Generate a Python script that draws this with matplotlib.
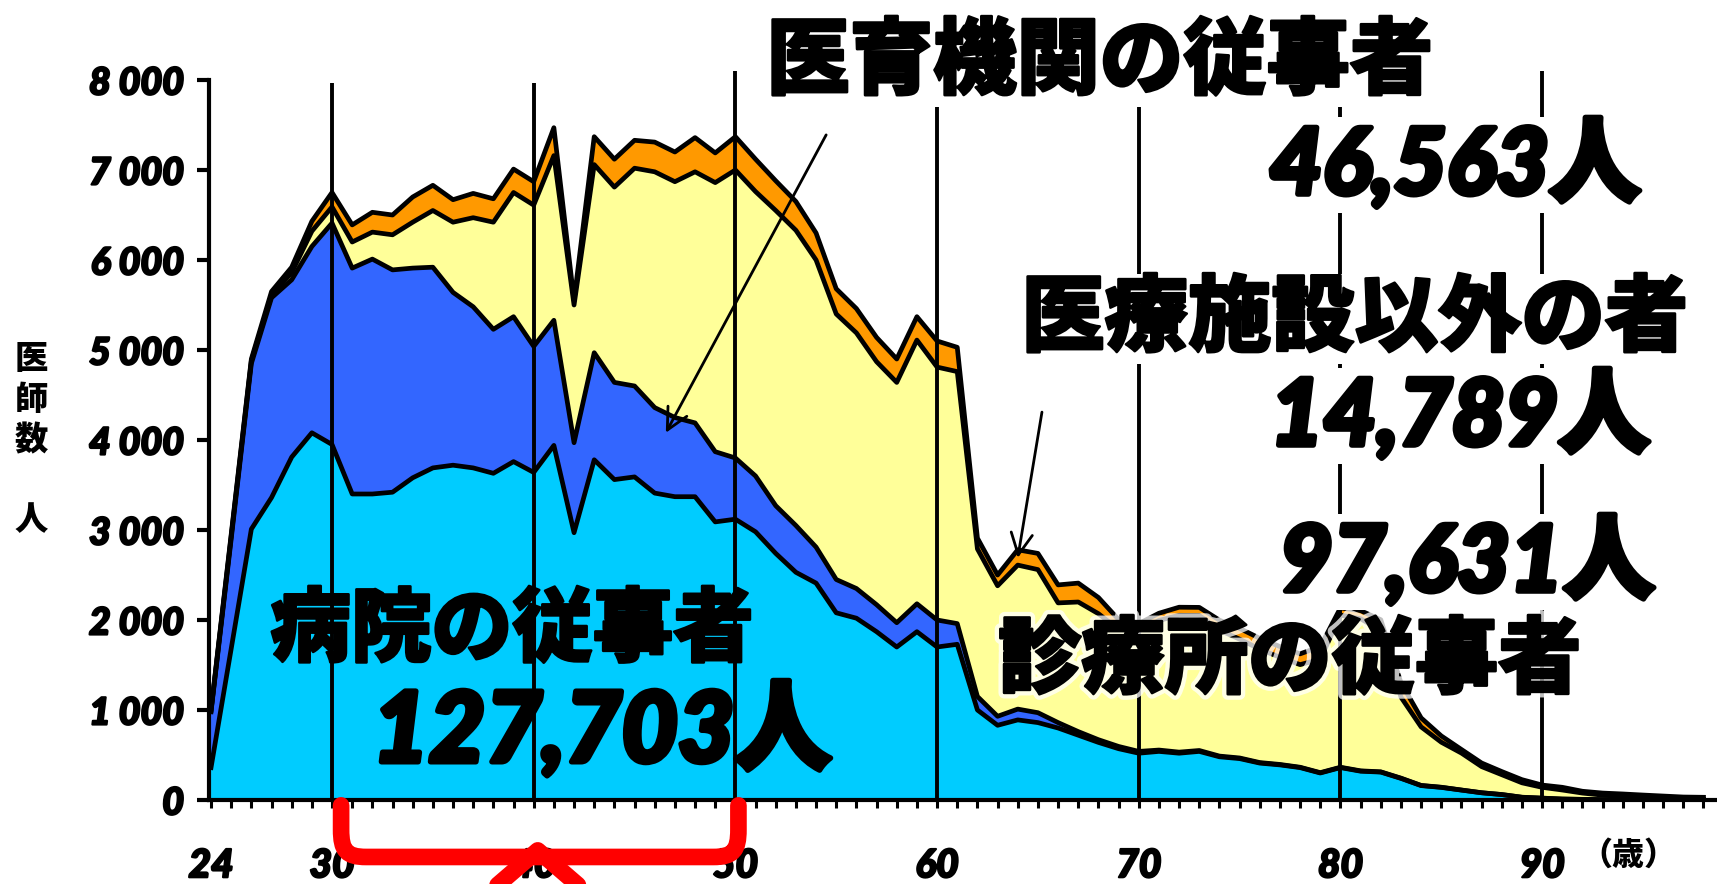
import matplotlib
matplotlib.use("Agg")
import matplotlib.pyplot as plt
import matplotlib.patheffects as pe
import numpy as np
from matplotlib.patches import PathPatch
from matplotlib.path import Path
from matplotlib.ticker import FixedLocator, FuncFormatter, MultipleLocator

# 年齢階級別・施設の種別にみた医師数（24〜98歳）
ages = np.arange(24, 99)

hospital = [360, 1680, 3010, 3360, 3810, 4080, 3950, 3400, 3400, 3420,
            3580, 3690, 3720, 3690, 3630, 3760, 3640, 3940, 2970, 3780,
            3560, 3590, 3410, 3370, 3370, 3090, 3120, 2980, 2740, 2530,
            2410, 2080, 2020, 1870, 1700, 1870, 1700, 1730, 1000, 830,
            890, 860, 800, 720, 640, 570, 520, 540, 520, 540,
            480, 460, 410, 390, 360, 300, 360, 320, 310, 240,
            160, 140, 110, 80, 60, 30, 20, 10, 7, 4,
            3, 2, 1, 1, 1]

education = [620, 1220, 1840, 2220, 1970, 2070, 2460, 2510, 2610, 2470,
             2330, 2230, 1920, 1790, 1600, 1610, 1400, 1390, 1000, 1190,
             1080, 1010, 950, 880, 820, 780, 680, 620, 530, 520,
             400, 370, 330, 300, 270, 310, 300, 230, 150, 100,
             120, 110, 60, 40, 30, 25, 20, 15, 12, 10,
             8, 7, 6, 5, 4, 4, 4, 4, 3, 3,
             2, 2, 1, 1, 1, 1, 1, 1, 0, 0,
             0, 0, 0, 0, 0]

clinic = [10, 30, 30, 30, 80, 170, 180, 290, 300, 390,
          510, 630, 780, 990, 1190, 1380, 1570, 1830, 1530, 2090,
          2170, 2420, 2620, 2620, 2790, 2990, 3200, 3160, 3280, 3280,
          3190, 2950, 2840, 2700, 2670, 2930, 2810, 2800, 1640, 1450,
          1600, 1590, 1330, 1440, 1400, 1300, 1340, 1440, 1520, 1500,
          1400, 1320, 1260, 1190, 1140, 1260, 1690, 1690, 1570, 900,
          650, 500, 410, 290, 220, 160, 120, 100, 70, 50,
          37, 26, 19, 11, 7]

other = [10, 20, 20, 40, 60, 110, 160, 190, 220, 220,
         280, 280, 250, 270, 260, 260, 260, 310, 50, 310,
         310, 310, 330, 330, 380, 330, 370, 360, 330, 320,
         300, 280, 270, 270, 260, 260, 290, 270, 120, 120,
         170, 180, 200, 210, 180, 110, 80, 80, 90, 90,
         110, 120, 120, 120, 120, 140, 80, 90, 120, 160,
         100, 70, 40, 40, 35, 35, 25, 30, 20, 23,
         27, 27, 24, 21, 22]

decades = [30, 40, 50, 60, 70, 80, 90]
xtick_ages = [24, 30, 40, 50, 60, 70, 80, 90]

NUM_FONT = ['Lato', 'DejaVu Sans']
JP_FONT = ['Noto Sans CJK JP', 'DejaVu Sans']
MIX_FONT = ['Lato', 'Noto Sans CJK JP', 'DejaVu Sans']

plt.rcParams['font.family'] = NUM_FONT
plt.rcParams['font.weight'] = 'black'
plt.rcParams['font.style'] = 'italic'

colors = ['#00CCFF', '#3366FF', '#FFFF99', '#FF9900']
W, H = 1717, 884


def heavy(width):
    # thicken glyphs a little with a same-colour outline
    return [pe.withStroke(linewidth=width, foreground='black')]


fig = plt.figure(figsize=(W / 100, H / 100), dpi=100)
ax = fig.add_axes([209 / W, 84 / H, 1 - 209 / W, 720 / H])

# stacked layers, then black outlines on each boundary
tops = np.cumsum([hospital, education, clinic, other], axis=0)
bottom = np.zeros(len(ages))
for top, color in zip(tops, colors):
    ax.fill_between(ages, bottom, top, facecolor=color, edgecolor='none', zorder=1)
    bottom = top
for top in tops:
    ax.plot(ages, top, color='black', lw=3.4, zorder=2, solid_joinstyle='round')

line_tops = [7970, 7970, 8100, 8100, 8100, 8100, 8100]
ax.vlines(decades, 0, line_tops, color='black', lw=2.8, zorder=3, clip_on=False)

ax.set_xlim(23.9, 98.67)
ax.set_ylim(0, 8000)
for side in ['top', 'right']:
    ax.spines[side].set_visible(False)
for side in ['left', 'bottom']:
    ax.spines[side].set_linewidth(3)

ax.yaxis.set_major_locator(MultipleLocator(1000))
ax.yaxis.set_major_formatter(FuncFormatter(lambda v, _: f'{int(v):,}'.replace(',', ' ')))
ax.xaxis.set_major_locator(FixedLocator(xtick_ages))
ax.xaxis.set_minor_locator(MultipleLocator(1))
ax.tick_params(axis='y', length=9, width=3, pad=9, labelsize=27)
ax.tick_params(axis='x', which='both', length=6, width=2.2, pad=28, labelsize=28)
fig.canvas.draw()
for lab in ax.get_xticklabels() + ax.get_yticklabels():
    lab.set_path_effects(heavy(1.6))

# arrows from the labels into the layers
arrow = dict(arrowstyle='->,head_length=0.7,head_width=0.35', lw=2, color='black',
             shrinkA=0, shrinkB=0, mutation_scale=22)
ax.annotate('', xy=(46.55, 4080), xytext=(54.5, 7390), arrowprops=arrow, zorder=4)
ax.annotate('', xy=(64.0, 2690), xytext=(65.2, 4310), arrowprops=arrow, zorder=4)

# red bracket under 30-50 with a pointer in the middle
brace = Path([(30.45, -60), (30.45, -330), (30.45, -560), (30.7, -633), (31.7, -633),
              (48.9, -633), (49.9, -633), (50.15, -560), (50.15, -330), (50.15, -60)],
             [Path.MOVETO, Path.LINETO, Path.CURVE4, Path.CURVE4, Path.CURVE4,
              Path.LINETO, Path.CURVE4, Path.CURVE4, Path.CURVE4, Path.LINETO])
pointer = Path([(37.3, -1120), (40.2, -560), (43.1, -1120)],
               [Path.MOVETO, Path.LINETO, Path.LINETO])
for p in (brace, pointer):
    ax.add_patch(PathPatch(p, fill=False, edgecolor='#FF0000', lw=12, capstyle='round',
                           joinstyle='round', clip_on=False, zorder=10))


def label(x, y, s, size, family=JP_FONT, style='normal', box=False, effects=None, **kw):
    extra = {}
    if box:
        extra['bbox'] = dict(facecolor='white', edgecolor='none', pad=2)
    fig.text(x / W, 1 - y / H, s, ha='center', va='center', fontsize=size,
             family=family, weight='black', style=style,
             path_effects=effects if effects is not None else heavy(1.8), **extra, **kw)


label(1100, 62, '医育機関の従事者', 60, box=True)
label(1455, 165, '46,563人', 66, family=MIX_FONT, style='italic', box=True, effects=heavy(4))
label(1355, 319, '医療施設以外の者', 60, box=True)
label(1460, 416, '14,789人', 66, family=MIX_FONT, style='italic', box=True, effects=heavy(4))
label(1467, 562, '97,631人', 66, family=MIX_FONT, style='italic', box=True, effects=heavy(4))
label(1290, 661, '診療所の従事者', 60,
      effects=[pe.withStroke(linewidth=8, foreground='white', alpha=0.75),
               pe.withStroke(linewidth=1.8, foreground='black')])
label(512, 631, '病院の従事者', 58)
label(602, 731, '127,703人', 70, family=MIX_FONT, style='italic', effects=heavy(4))

# y axis caption and unit
for ch, y in zip('医師数人', [359, 400, 440, 520]):
    label(31, y, ch, 24, effects=[])
label(1628, 855, '（歳）', 23, effects=[])

fig.savefig('out.png', dpi=100)
